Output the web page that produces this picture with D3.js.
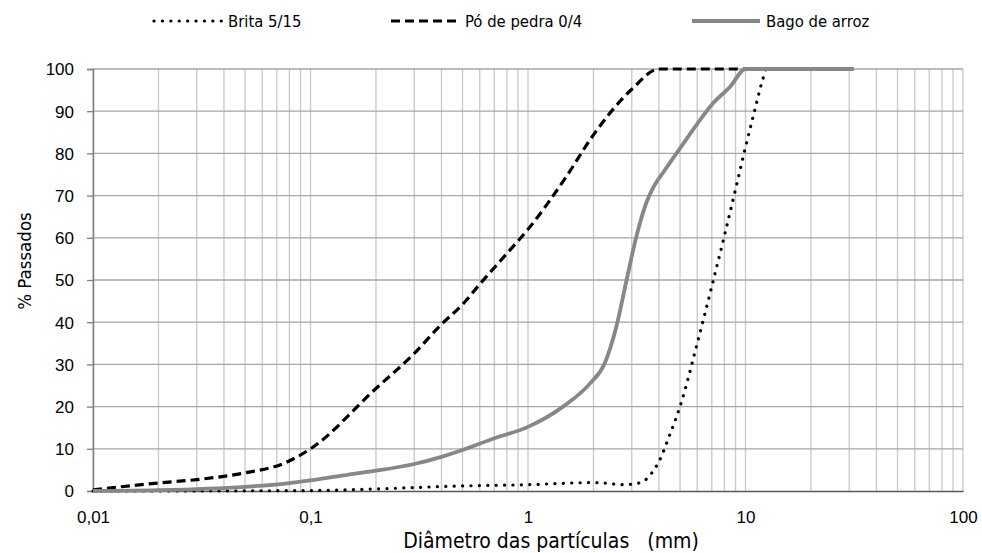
<!DOCTYPE html>
<html>
<head>
<meta charset="utf-8">
<script src="https://cdn.jsdelivr.net/npm/d3@7"></script>
<style>
  body { margin: 0; background: #fff; }
  .tick-label { font-family: 'Liberation Sans', Arial, sans-serif; font-size: 17px; fill: #000; }
  .title { font-family: 'DejaVu Sans Condensed', 'DejaVu Sans', sans-serif; fill: #000; }
</style>
</head>
<body>
<svg id="chart" width="982" height="553"></svg>
<script>
// Grading curves: [diameter in mm, % passing]
const britaData = [
  [0.01, 0], [0.05, 0.05], [0.1, 0.1], [0.2, 0.5], [0.5, 1.2], [1, 1.5],
  [2, 2.0], [2.8, 1.5], [3.3, 2.0], [3.7, 4.2], [4, 7], [4.5, 13.5],
  [5, 20], [6, 35], [7, 48.5], [8, 60.5], [9, 71.5], [10, 81.5],
  [11, 90], [12, 97.5], [12.5, 100], [14, 100]
]
const poData = [
  [0.01, 0.3], [0.02, 1.9], [0.03, 2.7], [0.05, 4.3], [0.075, 6.5], [0.1, 10],
  [0.2, 24.3], [0.3, 32.6], [0.4, 39.5], [0.5, 44.2], [0.6, 49], [0.8, 56.3],
  [1, 62], [1.5, 74.5], [2, 84.4], [3, 95.2], [4, 100], [8, 100], [14, 100]
]
const bagoData = [
  [0.01, 0], [0.02, 0.2], [0.05, 1.0], [0.075, 1.7], [0.1, 2.5], [0.15, 3.9],
  [0.2, 4.8], [0.3, 6.4], [0.4, 8.1], [0.5, 9.7], [0.7, 12.5], [1, 15.2],
  [1.45, 20], [1.93, 25.5], [2.24, 30], [2.55, 39], [2.84, 50], [3.15, 60.3],
  [3.5, 68.3], [3.8, 72.3], [4.2, 75.6], [5, 81.2], [6, 87], [7.07, 91.8],
  [8.5, 95.8], [10, 100], [31.5, 100]
]

const xTicks = [0.01, 0.1, 1, 10, 100]
const xTickLabels = ['0,01', '0,1', '1', '10', '100']
const yTicks = [0, 10, 20, 30, 40, 50, 60, 70, 80, 90, 100]

const legendItems = ['Brita 5/15', 'Pó de pedra 0/4', 'Bago de arroz']

const margin = { left: 93, right: 19, top: 69, bottom: 62 }
const svg = d3.select('#chart')
const width = 982 - margin.left - margin.right
const height = 553 - margin.top - margin.bottom

let x = d3.scaleLog().domain([0.01, 100]).range([0, width])
let y = d3.scaleLinear().domain([0, 100]).range([height, 0])

let g = svg.append('g')
    .attr('transform', `translate(${margin.left},${margin.top})`)

// vertical log gridlines (1..9 in each decade)
let minor = []
for (let e = -2; e < 2; e++) {
  for (let k = 1; k < 10; k++) minor.push(k * Math.pow(10, e))
}
minor.push(100)

g.append('g').selectAll('line')
  .data(minor)
  .join('line')
    .attr('x1', d => x(d)).attr('x2', d => x(d))
    .attr('y1', 0).attr('y2', height)
    .attr('stroke', '#c8c8c8')
    .attr('stroke-width', 1.3)

// horizontal gridlines
g.append('g').selectAll('line')
  .data(yTicks.slice(1))
  .join('line')
    .attr('x1', 0).attr('x2', width)
    .attr('y1', d => y(d)).attr('y2', d => y(d))
    .attr('stroke', '#a6a6a6')
    .attr('stroke-width', 1.3)

// y axis
let yAxis = d3.axisLeft(y).tickValues(yTicks).tickSize(6).tickFormat(d3.format('d'))
let yAxisG = g.append('g').call(yAxis)
yAxisG.attr('font-size', null).attr('font-family', null)
yAxisG.select('.domain').attr('stroke', '#7f7f7f').attr('stroke-width', 1.5)
yAxisG.selectAll('.tick line').attr('stroke', '#7f7f7f').attr('stroke-width', 1.3)
yAxisG.selectAll('.tick text')
  .attr('class', 'tick-label')
  .attr('x', -19)
  .attr('dy', '0.35em')

// x axis
let xAxis = d3.axisBottom(x).tickValues(xTicks).tickSize(0)
    .tickFormat((d, i) => xTickLabels[i])
let xAxisG = g.append('g')
    .attr('transform', `translate(0,${height})`)
    .call(xAxis)
xAxisG.attr('font-size', null).attr('font-family', null)
xAxisG.select('.domain').attr('stroke', '#595959').attr('stroke-width', 1.5)
xAxisG.selectAll('.tick text')
  .attr('class', 'tick-label')
  .attr('y', 20)
  .attr('dy', '0.71em')

// curves
let line = d3.line()
    .x(d => x(d[0]))
    .y(d => y(d[1]))
    .curve(d3.curveMonotoneX)

const series = [
  { name: legendItems[0], data: britaData, stroke: '#000', width: 3.2, dash: '0.1,8.3', cap: 'round' },
  { name: legendItems[1], data: poData, stroke: '#000', width: 3.2, dash: '9,5', cap: 'butt' },
  { name: legendItems[2], data: bagoData, stroke: '#878787', width: 3.8, dash: null, cap: 'butt' }
]

g.append('g').selectAll('path')
  .data(series)
  .join('path')
    .attr('d', d => line(d.data))
    .attr('fill', 'none')
    .attr('stroke', d => d.stroke)
    .attr('stroke-width', d => d.width)
    .attr('stroke-dasharray', d => d.dash)
    .attr('stroke-linecap', d => d.cap)

// legend
const legendX = [154, 391, 692]
let item = svg.append('g').selectAll('g')
  .data(series)
  .join('g')
    .attr('transform', (d, i) => `translate(${legendX[i]},21)`)
item.append('line')
  .attr('x1', 0).attr('x2', 68)
  .attr('stroke', d => d.stroke)
  .attr('stroke-width', d => d.width)
  .attr('stroke-dasharray', d => d.dash)
  .attr('stroke-linecap', d => d.cap)
item.append('text')
  .attr('class', 'title')
  .attr('x', 74)
  .attr('dy', '0.35em')
  .style('font-size', '16.5px')
  .text(d => d.name)

// axis titles
svg.append('text')
  .attr('class', 'title')
  .attr('x', 551)
  .attr('y', 548)
  .attr('text-anchor', 'middle')
  .style('font-size', '21px')
  .style('white-space', 'pre')
  .text('Diâmetro das partículas   (mm)')

svg.append('text')
  .attr('class', 'title')
  .attr('transform', 'translate(31,261) rotate(-90)')
  .attr('text-anchor', 'middle')
  .style('font-size', '18.5px')
  .text('% Passados')
</script>
</body>
</html>
